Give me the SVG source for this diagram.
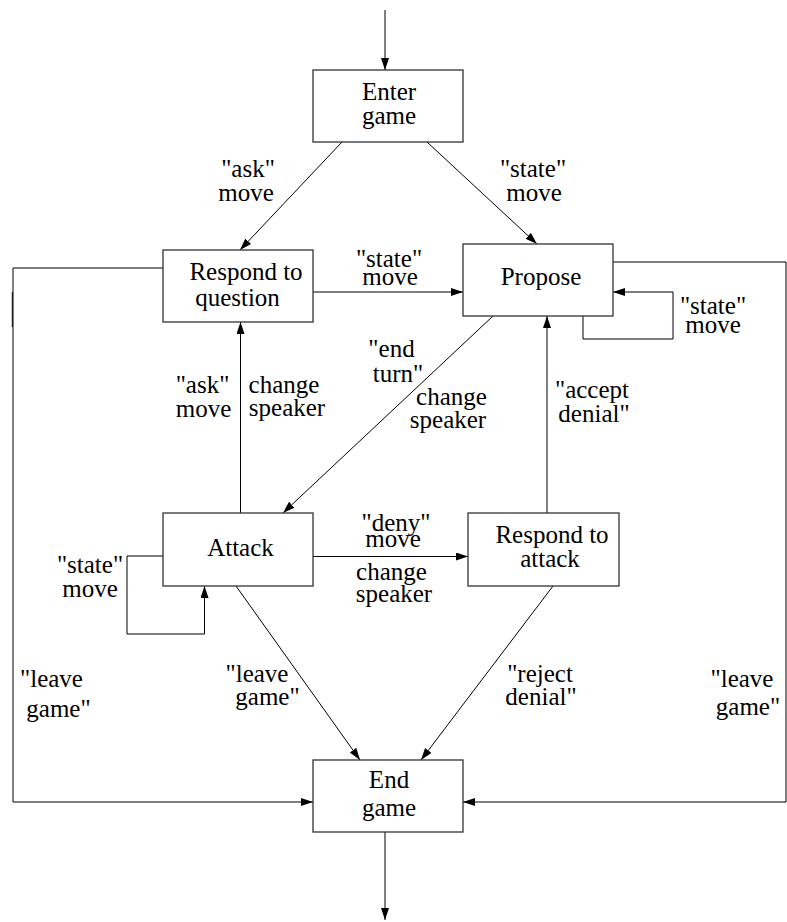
<svg xmlns="http://www.w3.org/2000/svg" width="787" height="922" viewBox="0 0 787 922">
  <style>
    .box { fill: #ffffff; stroke: #333333; stroke-width: 1.3; }
    .edge { fill: none; stroke: #000000; stroke-width: 1; }
    .lbl { font-family: "Liberation Serif", "Times New Roman", serif; font-size: 25px; fill: #000000; text-anchor: middle; }
  </style>
  <defs>
    <marker id="arrow" markerUnits="userSpaceOnUse" markerWidth="13" markerHeight="9" refX="12" refY="4" orient="auto">
      <path d="M0,0 L12,4 L0,8 z" fill="#000000"/>
    </marker>
  </defs>
  <rect width="787" height="922" fill="#ffffff"/>

  <!-- transitions between the game states -->
  <g id="connectors">
    <path class="edge" d="M385,10 L385,70" marker-end="url(#arrow)"/>
    <path class="edge" d="M342,142 L240,250" marker-end="url(#arrow)"/>
    <path class="edge" d="M427,142 L537,244" marker-end="url(#arrow)"/>
    <path class="edge" d="M313,292 L463,292" marker-end="url(#arrow)"/>
    <path class="edge" d="M583,316 V339 H673 V292 H613" marker-end="url(#arrow)"/>
    <path class="edge" d="M493,316 L283,513" marker-end="url(#arrow)"/>
    <path class="edge" d="M240.5,513 V322" marker-end="url(#arrow)"/>
    <path class="edge" d="M163,556 H127 V634 H204.5 V586" marker-end="url(#arrow)"/>
    <path class="edge" d="M313,556.5 H468" marker-end="url(#arrow)"/>
    <path class="edge" d="M547,513 V316" marker-end="url(#arrow)"/>
    <path class="edge" d="M236,586 L360,760" marker-end="url(#arrow)"/>
    <path class="edge" d="M553,586 L421,760" marker-end="url(#arrow)"/>
    <path class="edge" d="M163,268 H13 V802 H313" marker-end="url(#arrow)"/>
    <path class="edge" d="M12.3,292 V327"/>
    <path class="edge" d="M613,262 H786 V802 H463" marker-end="url(#arrow)"/>
    <path class="edge" d="M385,832 V920" marker-end="url(#arrow)"/>

    <!-- transition labels -->
    <text class="lbl" x="248" y="177">"ask"</text>
    <text class="lbl" x="246" y="201">move</text>
    <text class="lbl" x="533" y="177">"state"</text>
    <text class="lbl" x="534" y="201">move</text>
    <text class="lbl" x="389" y="267">"state"</text>
    <text class="lbl" x="390" y="285">move</text>
    <text class="lbl" x="713" y="314">"state"</text>
    <text class="lbl" x="713" y="333">move</text>
    <text class="lbl" x="391.5" y="357">"end</text>
    <text class="lbl" x="398" y="382">turn"</text>
    <text class="lbl" x="451.5" y="405">change</text>
    <text class="lbl" x="448" y="428">speaker</text>
    <text class="lbl" x="592" y="398">"accept</text>
    <text class="lbl" x="594" y="422">denial"</text>
    <text class="lbl" x="202.5" y="393">"ask"</text>
    <text class="lbl" x="203.5" y="417">move</text>
    <text class="lbl" x="284" y="393">change</text>
    <text class="lbl" x="287" y="416">speaker</text>
    <text class="lbl" x="90" y="573">"state"</text>
    <text class="lbl" x="90" y="597">move</text>
    <text class="lbl" x="396" y="531">"deny"</text>
    <text class="lbl" x="393" y="547">move</text>
    <text class="lbl" x="391.5" y="580">change</text>
    <text class="lbl" x="394" y="602">speaker</text>
    <text class="lbl" x="51.5" y="687">"leave</text>
    <text class="lbl" x="58.5" y="717">game"</text>
    <text class="lbl" x="257" y="682">"leave</text>
    <text class="lbl" x="267.5" y="705">game"</text>
    <text class="lbl" x="540" y="682">"reject</text>
    <text class="lbl" x="541" y="705">denial"</text>
    <text class="lbl" x="742" y="687">"leave</text>
    <text class="lbl" x="748" y="715">game"</text>
  </g>

  <!-- game states -->
  <g id="enter-game">
    <rect class="box" x="313" y="70" width="150" height="72"/>
    <text class="lbl" x="389" y="100">Enter</text>
    <text class="lbl" x="389" y="124">game</text>
  </g>
  <g id="respond-to-question">
    <rect class="box" x="163" y="250" width="150" height="72"/>
    <text class="lbl" x="246" y="280">Respond to</text>
    <text class="lbl" x="237.5" y="306">question</text>
  </g>
  <g id="propose">
    <rect class="box" x="463" y="244" width="150" height="72"/>
    <text class="lbl" x="541" y="285">Propose</text>
  </g>
  <g id="attack">
    <rect class="box" x="163" y="513" width="150" height="73"/>
    <text class="lbl" x="240.5" y="556">Attack</text>
  </g>
  <g id="respond-to-attack">
    <rect class="box" x="468" y="513" width="151" height="73"/>
    <text class="lbl" x="552" y="543">Respond to</text>
    <text class="lbl" x="550" y="567">attack</text>
  </g>
  <g id="end-game">
    <rect class="box" x="313" y="760" width="150" height="72"/>
    <text class="lbl" x="389" y="788">End</text>
    <text class="lbl" x="389" y="816">game</text>
  </g>
</svg>
